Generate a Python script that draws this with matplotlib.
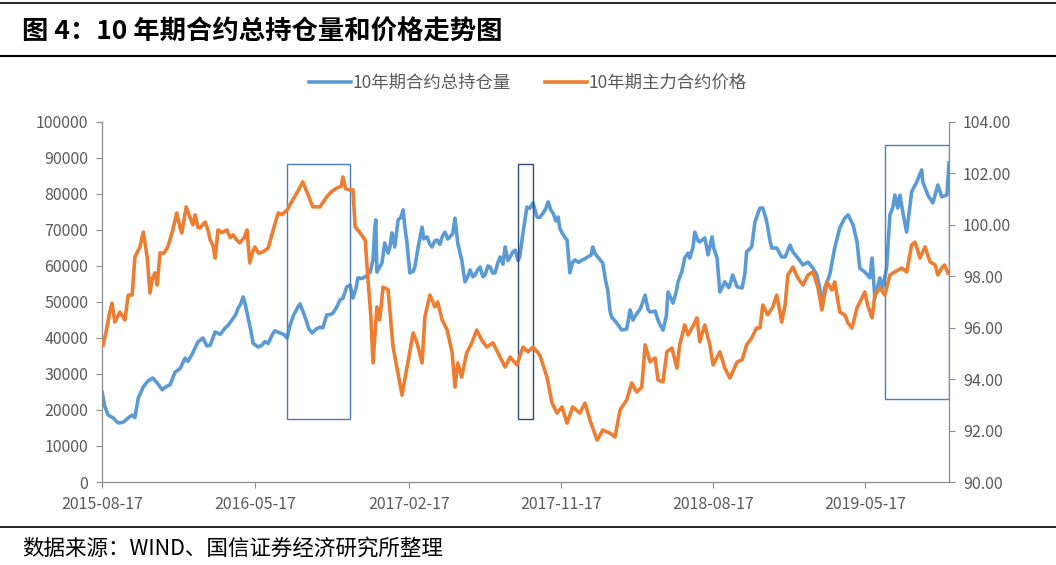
import matplotlib
matplotlib.use("Agg")
import matplotlib.pyplot as plt
import matplotlib.dates as mdates
from matplotlib.patches import Rectangle
from matplotlib.lines import Line2D
import pandas as pd

plt.rcParams['font.family'] = ['Noto Sans CJK SC', 'DejaVu Sans']

START = pd.Timestamp("2015-08-17")
END = pd.Timestamp("2019-10-14")

# total open interest (left axis): day offset from 2015-08-17, contracts
oi_day = [
    0, 5, 11, 20, 29, 38, 47, 54, 59, 65, 74, 82, 91, 99, 108, 115, 122, 131,
    140, 149, 154, 161, 172, 181, 188, 194, 203, 212, 221, 226, 233, 240, 244,
    249, 253, 256, 262, 267, 271, 280, 287, 292, 298, 305, 310, 319, 326, 332,
    337, 344, 351, 355, 360, 366, 371, 377, 384, 391, 396, 403, 409, 414, 421,
    427, 432, 439, 445, 450, 455, 459, 466, 472, 481, 486, 489, 491, 493, 502,
    507, 513, 516, 520, 525, 531, 536, 540, 543, 547, 552, 558, 561, 567, 574,
    577, 583, 588, 592, 597, 601, 606, 610, 615, 620, 624, 629, 633, 638, 645,
    651, 656, 660, 665, 669, 674, 678, 683, 687, 692, 696, 701, 705, 710, 714,
    719, 723, 728, 732, 737, 741, 746, 749, 755, 762, 767, 773, 780, 785, 791,
    796, 800, 805, 809, 814, 818, 821, 825, 830, 834, 839, 844, 848, 855, 861,
    866, 871, 877, 880, 884, 889, 898, 903, 907, 911, 914, 923, 932, 941, 947,
    952, 961, 966, 974, 979, 983, 992, 997, 1001, 1006, 1012, 1015, 1024, 1030,
    1033, 1040, 1045, 1051, 1054, 1060, 1063, 1069, 1072, 1081, 1087, 1094,
    1097, 1103, 1108, 1117, 1124, 1126, 1131, 1139, 1148, 1153, 1156, 1165,
    1171, 1176, 1180, 1185, 1191, 1194, 1198, 1201, 1210, 1219, 1225, 1234,
    1239, 1248, 1257, 1266, 1275, 1282, 1287, 1291, 1296, 1305, 1314, 1323,
    1332, 1338, 1347, 1354, 1359, 1368, 1377, 1381, 1386, 1395, 1400, 1407,
    1413, 1418, 1422, 1427, 1431, 1436, 1443, 1452, 1461, 1470, 1472, 1481,
    1490, 1499, 1506, 1515, 1519,
]
oi_val = [
    25000, 21000, 18600, 17800, 16400, 16600, 17800, 18600, 17900, 23300,
    26400, 28000, 28900, 27500, 25600, 26500, 27000, 30500, 31500, 34400,
    33500, 35300, 38900, 40000, 37800, 38000, 41700, 41000, 42800, 43500,
    45000, 46500, 48300, 49500, 51400, 50000, 45600, 42000, 38500, 37500,
    38000, 39000, 38500, 40800, 42000, 41400, 41000, 40000, 43500, 46500,
    48500, 49500, 47500, 45000, 42500, 41400, 42500, 43000, 42800, 46400,
    46500, 46900, 48600, 50600, 51000, 54200, 54700, 51100, 53500, 56700,
    56500, 57000, 58300, 61700, 70000, 72800, 58300, 60800, 66400, 63600,
    65000, 69200, 65300, 72800, 73500, 75600, 71000, 66400, 58100, 58500,
    59700, 65300, 70800, 67500, 68100, 66000, 65300, 67000, 67200, 66000,
    68100, 69400, 67500, 68100, 69000, 73300, 66400, 61700, 55600, 57000,
    58900, 57000, 57500, 59000, 59700, 57000, 57500, 60000, 59700, 58000,
    58100, 61000, 62500, 60500, 65300, 61500, 62500, 64000, 64400, 61500,
    62500, 69200, 76400, 76000, 77500, 73600, 73500, 74700, 76000, 77800,
    75500, 74700, 72500, 73600, 70500, 69200, 68000, 67200, 58100, 61000,
    61700, 61000, 61700, 62000, 62500, 63000, 65300, 63500, 62500, 60800,
    56000, 53300, 47500, 45800, 44200, 42200, 42500, 47800, 45000, 47200,
    48300, 51900, 48000, 47200, 47500, 45000, 43600, 42200, 46000, 52800,
    49700, 53000, 55600, 58500, 62200, 63600, 62200, 65300, 69400, 67000,
    66700, 67800, 63100, 68100, 65000, 62200, 52800, 55600, 54000, 54700,
    57500, 54200, 53900, 58000, 63900, 65300, 72200, 74500, 76100, 76100,
    73000, 70600, 67000, 65000, 65000, 62500, 62500, 65800, 63900, 62200,
    60300, 61100, 59400, 57500, 54000, 48300, 53900, 57500, 65000, 70600,
    73300, 74200, 71400, 66700, 59400, 58300, 56700, 62200, 51100, 56700,
    53900, 59400, 74200, 76100, 79700, 76100, 79700, 75000, 69400, 80600,
    83300, 86700, 83300, 79700, 77500, 82500, 79200, 79700, 88600,
]

# main contract price (right axis)
px_day = [
    2, 7, 13, 18, 23, 32, 41, 47, 54, 59, 68, 74, 81, 86, 90, 95, 99, 104,
    111, 118, 127, 134, 140, 143, 151, 158, 163, 167, 172, 176, 185, 190, 194,
    199, 203, 208, 215, 224, 230, 235, 242, 247, 255, 260, 265, 271, 274, 281,
    289, 298, 307, 316, 323, 332, 342, 351, 360, 369, 378, 391, 403, 412, 421,
    429, 432, 437, 445, 450, 454, 463, 472, 477, 482, 486, 493, 498, 504, 513,
    522, 531, 538, 547, 558, 565, 574, 579, 588, 597, 602, 610, 619, 628, 633,
    638, 645, 654, 663, 672, 681, 690, 701, 714, 723, 732, 744, 755, 764, 773,
    785, 798, 807, 816, 825, 834, 844, 857, 866, 875, 888, 898, 911, 920, 929,
    941, 950, 959, 968, 974, 983, 992, 997, 1006, 1013, 1022, 1031, 1036, 1045,
    1051, 1058, 1067, 1072, 1081, 1090, 1096, 1108, 1117, 1126, 1139, 1148,
    1156, 1165, 1174, 1180, 1185, 1194, 1203, 1210, 1219, 1225, 1230, 1239,
    1248, 1257, 1266, 1275, 1284, 1291, 1300, 1309, 1314, 1323, 1332, 1338,
    1345, 1354, 1363, 1368, 1373, 1381, 1386, 1395, 1404, 1413, 1422, 1434,
    1443, 1452, 1458, 1467, 1476, 1485, 1494, 1499, 1506, 1511, 1517,
]
px_val = [
    95.33, 95.80, 96.50, 96.96, 96.22, 96.61, 96.30, 97.27, 97.27, 98.75,
    99.14, 99.72, 98.75, 97.35, 97.90, 98.13, 97.66, 98.91, 98.90, 99.14,
    99.80, 100.46, 99.90, 99.68, 100.70, 100.27, 100.00, 100.39, 99.90, 99.88,
    100.11, 99.80, 99.41, 99.20, 98.71, 99.80, 99.70, 99.80, 99.50, 99.61,
    99.40, 99.30, 99.50, 99.80, 98.52, 99.00, 99.14, 98.90, 98.95, 99.10,
    99.80, 100.46, 100.40, 100.58, 100.97, 101.30, 101.67, 101.20, 100.70,
    100.70, 101.09, 101.30, 101.43, 101.50, 101.86, 101.40, 101.36, 101.36,
    99.92, 99.68, 99.41, 97.86, 96.50, 94.63, 96.81, 96.30, 97.58, 97.47,
    95.25, 94.20, 93.38, 94.47, 95.80, 95.41, 94.63, 96.42, 97.27, 96.81,
    97.00, 96.30, 95.91, 95.02, 93.69, 94.63, 94.08, 95.02, 95.40, 95.91,
    95.52, 95.25, 95.41, 94.86, 94.47, 94.86, 94.55, 95.25, 95.06, 95.25,
    94.94, 94.08, 93.07, 92.68, 92.92, 92.29, 92.92, 92.68, 93.07, 92.41,
    91.63, 92.02, 91.90, 91.75, 92.80, 93.19, 93.85, 93.50, 93.69, 95.33,
    94.67, 94.82, 93.97, 93.89, 95.06, 95.21, 94.43, 95.33, 96.11, 95.72,
    95.99, 96.38, 95.45, 96.11, 95.33, 94.55, 95.06, 94.43, 94.04, 94.67,
    94.75, 95.33, 95.60, 95.99, 95.99, 96.88, 96.50, 96.81, 97.27, 96.22,
    96.88, 98.05, 98.36, 97.93, 97.66, 98.05, 98.17, 97.55, 96.69, 97.78,
    97.47, 97.78, 96.61, 96.50, 96.18, 95.99, 96.77, 97.16, 97.39, 96.88,
    96.38, 97.27, 97.55, 97.27, 98.05, 98.17, 98.32, 98.17, 99.22, 99.33,
    98.71, 99.14, 98.56, 98.44, 98.05, 98.32, 98.44, 98.13,
]

tick_dates = ["2015-08-17", "2016-05-17", "2017-02-17",
              "2017-11-17", "2018-08-17", "2019-05-17"]

# highlighted periods: start day, end day, low, high (left-axis units)
boxes = [
    (331, 445, 17500, 88300, "#4a7ebb"),
    (746, 773, 17500, 88300, "#2f4b7c"),
    (1404, 1519, 23000, 93600, "#4a7ebb"),
]

BLUE = "#5b9bd5"
ORANGE = "#ed7d31"
GREY = "#595959"
AXC = "#8c8c8c"

oi_x = START + pd.to_timedelta(oi_day, unit="D")
px_x = START + pd.to_timedelta(px_day, unit="D")

fig = plt.figure(figsize=(10.56, 5.65), dpi=100)
ax = fig.add_axes([0.0966, 0.1469, 0.8021, 0.6372])
ax2 = ax.twinx()

ax.plot(oi_x, oi_val, color=BLUE, lw=2.6, solid_joinstyle="round")
ax2.plot(px_x, px_val, color=ORANGE, lw=2.6, solid_joinstyle="round")

for d0, d1, lo, hi, c in boxes:
    x0 = mdates.date2num(START + pd.Timedelta(days=d0))
    x1 = mdates.date2num(START + pd.Timedelta(days=d1))
    ax.add_patch(Rectangle((x0, lo), x1 - x0, hi - lo, fill=False,
                           edgecolor=c, lw=1.0, zorder=5))

ax.set_xlim(START, END)
ax.set_ylim(0, 100000)
ax2.set_ylim(90, 104)
ax.set_yticks(range(0, 100001, 10000))
ax2.set_yticks(range(90, 105, 2))
ax2.yaxis.set_major_formatter(plt.FuncFormatter(lambda v, p: f"{v:.2f}"))
ax.set_xticks(pd.to_datetime(tick_dates))
ax.set_xticklabels(tick_dates)

for a in (ax, ax2):
    a.spines["top"].set_visible(False)
    for s in ("left", "right", "bottom"):
        a.spines[s].set_color(AXC)
        a.spines[s].set_linewidth(0.9)
    a.tick_params(colors=AXC, labelcolor=GREY, labelsize=11.5,
                  length=4, width=0.8, pad=6)
ax.spines["right"].set_visible(False)
ax2.spines["left"].set_visible(False)
ax2.spines["bottom"].set_visible(False)

# legend
handles = [Line2D([], [], color=BLUE, lw=2.6),
           Line2D([], [], color=ORANGE, lw=2.6)]
fig.legend(handles, ["10年期合约总持仓量", "10年期主力合约价格"],
           loc="center", bbox_to_anchor=(0.5, 1 - 83 / 565), ncol=2,
           frameon=False, fontsize=12.5, handlelength=2.4, handletextpad=0.1,
           columnspacing=2.0, labelcolor=GREY)

# title, rules and source
fig.text(22 / 1056, 1 - 32 / 565, "图 4：10 年期合约总持仓量和价格走势图",
         fontsize=19, fontweight="bold", va="center", ha="left", color="black")
for yy, lw in ((3, 1.2), (56, 1.5), (527, 1.2)):
    fig.add_artist(Line2D([0, 1], [1 - yy / 565] * 2, color="black", lw=lw))
fig.text(22 / 1056, 1 - 549 / 565, "数据来源：WIND、国信证券经济研究所整理",
         fontsize=15.5, va="center", ha="left", color="black")

fig.savefig("out.png", dpi=100)
